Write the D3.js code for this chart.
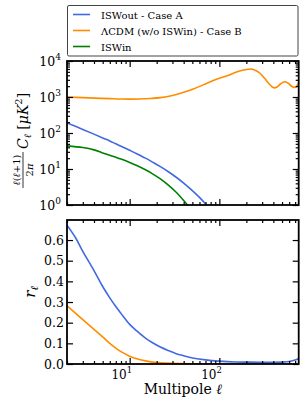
<!DOCTYPE html>
<html><head><meta charset="utf-8">
<script src="https://cdn.jsdelivr.net/npm/d3@7"></script>
<style>html,body{margin:0;padding:0;background:#fff}svg{display:block}text{font-family:"DejaVu Serif",serif;fill:#000}</style>
</head><body><svg id="c" width="306" height="412"></svg>
<script>
// ---------- data ----------
const seriesNames = ["ISWout - Case A", "ΛCDM (w/o ISWin) - Case B", "ISWin"];
const seriesColors = ["#4169E1", "#FF8C00", "#008000"];

const ellBlueTop = [2,3,4,5,6,7,8,10,12,15,18,22,27,33,40,50,60,72,80];
const clBlueTop  = [190,126,93,73,60,50,43,33,26.5,20,15.5,11.6,8.4,5.9,4.07,2.52,1.63,1.0,0.73];

const ellOrangeTop = [2,3,4,6,8,10,13,17,22,30,40,52,70,90,122,150,180,210,230,260,286,320,360,403,440,480,534,580,630,684,720,767];
const clOrangeTop  = [1000,960,930,900,880,875,880,910,960,1100,1350,1700,2300,3000,3900,4800,5500,5900,5950,5300,4500,3300,2300,1800,1900,2300,2650,2450,2050,1850,1950,2500];

const ellGreenTop = [2,3,4,5,6,7,8,10,12,15,18,22,27,33,40,44,50];
const clGreenTop  = [44,39.5,34,28,24,21.2,18.9,15.2,12.5,9.5,7.35,5.3,3.56,2.26,1.34,1.0,0.65];

const ellBlueBot = [2,2.5,3,4,5,6,7,8,10,12,15,18,22,27,33,40,52,70,100,150,220,300,400,500,600,700,767];
const rBlueBot   = [0.672,0.61,0.545,0.452,0.375,0.32,0.278,0.245,0.192,0.16,0.125,0.103,0.082,0.065,0.05,0.04,0.028,0.02,0.014,0.01,0.009,0.008,0.008,0.009,0.012,0.019,0.027];

const ellOrangeBot = [2,2.5,3,4,5,6,7,8,10,12,15,18,22,30,40,60,80,150,300,767];
const rOrangeBot   = [0.282,0.245,0.215,0.168,0.131,0.100,0.077,0.060,0.038,0.025,0.015,0.009,0.006,0.003,0.002,0.001,0,0,0,0];

const xMajor = [10,100];
const xMajorExp = [1,2];
const yTopMajor = [1,10,100,1000,10000];
const yTopExp = [0,1,2,3,4];
const yBotMajor = [0,0.1,0.2,0.3,0.4,0.5,0.6];
const yBotLabels = ["0.0","0.1","0.2","0.3","0.4","0.5","0.6"];

// ---------- layout ----------
const L = 67, R = 298.7;
const T1 = 61, B1 = 205, T2 = 220, B2 = 364;
const svg = d3.select("#c");

const x = d3.scaleLog().domain([2, 767]).range([L, R]);
const y1 = d3.scaleLog().domain([1, 1e4]).range([B1, T1]);
const y2 = d3.scaleLinear().domain([0, 0.697]).range([B2, T2]);

function minorLog(lo, hi) {
  const out = [];
  for (let d = Math.floor(Math.log10(lo)); d <= Math.ceil(Math.log10(hi)); d++) {
    for (let k = 2; k <= 9; k++) { const v = k * Math.pow(10, d); if (v >= lo && v <= hi) out.push(v); }
  }
  return out;
}
const xMinor = minorLog(2, 767);
const y1Minor = minorLog(1, 1e4);

const defs = svg.append("defs");
defs.append("clipPath").attr("id","cp1").append("rect").attr("x",L).attr("y",T1).attr("width",R-L).attr("height",B1-T1);
defs.append("clipPath").attr("id","cp2").append("rect").attr("x",L).attr("y",T2).attr("width",R-L).attr("height",B2-T2);

function ticks(g, axisFn, scale, vals, size) {
  g.call(axisFn(scale).tickValues(vals).tickSize(size).tickFormat(""))
   .call(s => s.select(".domain").remove())
   .call(s => s.selectAll("line").attr("stroke","#000").attr("stroke-width",1.2));
}

function panelFrame(top, bot, yScale, yMaj, yMin) {
  const g = svg.append("g");
  ticks(g.append("g").attr("transform",`translate(0,${bot})`), d3.axisBottom, x, xMajor, -6);
  ticks(g.append("g").attr("transform",`translate(0,${bot})`), d3.axisBottom, x, xMinor, -3);
  ticks(g.append("g").attr("transform",`translate(0,${top})`), d3.axisTop, x, xMajor, -6);
  ticks(g.append("g").attr("transform",`translate(0,${top})`), d3.axisTop, x, xMinor, -3);
  ticks(g.append("g").attr("transform",`translate(${L},0)`), d3.axisLeft, yScale, yMaj, -6);
  ticks(g.append("g").attr("transform",`translate(${R},0)`), d3.axisRight, yScale, yMaj, -6);
  if (yMin) {
    ticks(g.append("g").attr("transform",`translate(${L},0)`), d3.axisLeft, yScale, yMin, -3);
    ticks(g.append("g").attr("transform",`translate(${R},0)`), d3.axisRight, yScale, yMin, -3);
  }
  g.append("rect").attr("x",L).attr("y",top).attr("width",R-L).attr("height",bot-top)
   .attr("fill","none").attr("stroke","#000").attr("stroke-width",1.8);
}

function curve(ells, vals, yScale, color, clip) {
  const pts = ells.map((e,i)=>[x(e), yScale(vals[i])]);
  svg.append("path").attr("clip-path",`url(#${clip})`)
    .attr("d", d3.line().curve(d3.curveCatmullRom.alpha(0.5))(pts))
    .attr("fill","none").attr("stroke",color).attr("stroke-width",1.6);
}

// top panel
curve(ellOrangeTop, clOrangeTop, y1, seriesColors[1], "cp1");
curve(ellBlueTop, clBlueTop, y1, seriesColors[0], "cp1");
curve(ellGreenTop, clGreenTop, y1, seriesColors[2], "cp1");
panelFrame(T1, B1, y1, yTopMajor, y1Minor);

// bottom panel
curve(ellOrangeBot, rOrangeBot, y2, seriesColors[1], "cp2");
curve(ellBlueBot, rBlueBot, y2, seriesColors[0], "cp2");
panelFrame(T2, B2, y2, yBotMajor, null);

// y tick labels top (10^k)
yTopMajor.forEach((v,i)=>{
  const t = svg.append("text").attr("x", 61).attr("y", y1(v)+4.5).attr("text-anchor","end").style("font-size","12.5px");
  t.append("tspan").text("10");
  t.append("tspan").attr("dy",-6).style("font-size","9px").text(yTopExp[i]);
});
// y tick labels bottom
yBotMajor.forEach((v,i)=>{
  svg.append("text").attr("x", 64).attr("y", y2(v)+4.5).attr("text-anchor","end").style("font-size","12.5px").text(yBotLabels[i]);
});
// x tick labels bottom
xMajor.forEach((v,i)=>{
  const t = svg.append("text").attr("x", x(v)+2.5).attr("y", 379).attr("text-anchor","end").style("font-size","12px");
  t.append("tspan").text("10");
  t.append("tspan").attr("dy",-6).style("font-size","8.5px").text(xMajorExp[i]);
});

// x label
const xl = svg.append("text").attr("x",(L+R)/2).attr("y",393.5).attr("text-anchor","middle").style("font-size","14px");
xl.append("tspan").text("Multipole ");
xl.append("tspan").style("font-style","italic").text("ℓ");

// y label top
const gy = svg.append("g").attr("transform",`translate(23,${(T1+B1)/2}) rotate(-90)`);
gy.append("line").attr("x1",-55).attr("x2",-19).attr("y1",0).attr("y2",0).attr("stroke","#000").attr("stroke-width",0.8);
const num = gy.append("text").attr("x",-37).attr("y",-3.5).attr("text-anchor","middle").style("font-size","10px");
num.append("tspan").style("font-style","italic").text("ℓ");
num.append("tspan").text("(");
num.append("tspan").style("font-style","italic").text("ℓ");
num.append("tspan").text("+1)");
const den = gy.append("text").attr("x",-37).attr("y",9.5).attr("text-anchor","middle").style("font-size","10px");
den.append("tspan").text("2");
den.append("tspan").style("font-style","italic").text("π");
const mt = gy.append("text").attr("x",-16).attr("y",4.5).style("font-size","14px");
mt.append("tspan").style("font-style","italic").text("C");
mt.append("tspan").attr("dy",3).style("font-size","10px").style("font-style","italic").text("ℓ");
mt.append("tspan").attr("dy",-3).text(" [");
mt.append("tspan").style("font-style","italic").text("μK");
mt.append("tspan").attr("dy",-6).style("font-size","10px").text("2");
mt.append("tspan").attr("dy",6).text("]");

// y label bottom
const gy2 = svg.append("g").attr("transform",`translate(35,${(T2+B2)/2}) rotate(-90)`);
const rl = gy2.append("text").attr("x",0).attr("y",0).attr("text-anchor","middle").style("font-size","15px");
rl.append("tspan").style("font-style","italic").text("r");
rl.append("tspan").attr("dy",3).style("font-size","10.5px").style("font-style","italic").text("ℓ");

// legend
const lg = svg.append("g");
lg.append("rect").attr("x",67.5).attr("y",5.5).attr("width",230.5).attr("height",50.5).attr("rx",1.5)
  .attr("fill","#fff").attr("stroke","#444").attr("stroke-width",1);
const rowsY = [14.5, 30.5, 46.5];
seriesNames.forEach((n,i)=>{
  lg.append("line").attr("x1",73).attr("x2",90).attr("y1",rowsY[i]).attr("y2",rowsY[i]).attr("stroke",seriesColors[i]).attr("stroke-width",1.6);
  lg.append("text").attr("x",101).attr("y",rowsY[i]+4).style("font-size","10px").text(n);
});
</script></body></html>
